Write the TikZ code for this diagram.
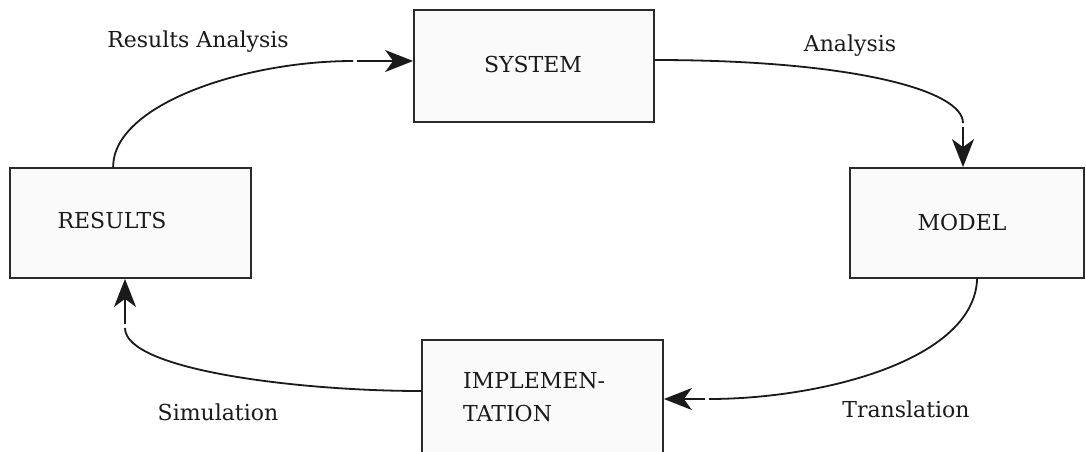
\documentclass[tikz,border=0pt]{standalone}
\usepackage{fontspec}
\setmainfont{DejaVu Serif}
\usetikzlibrary{arrows.meta}
\definecolor{ink}{HTML}{1A1A1A}
\definecolor{boxfill}{HTML}{FAFAFA}
\definecolor{edge}{HTML}{2A2A2A}
\begin{document}
\begin{tikzpicture}[x=1pt,y=-1pt,
  stage/.style={draw=edge, line width=1.8pt, fill=boxfill, rectangle, inner sep=0pt},
  caption/.style={text=ink, font=\fontsize{22}{33}\selectfont, inner sep=0pt, anchor=base},
  flow/.style={draw=ink, line width=1.8pt},
  flowtip/.style={flow, -{Stealth[length=28pt,width=22pt,inset=8pt]}}]
\useasboundingbox (0,0) rectangle (1086,451);
\clip (0,0) rectangle (1086,451);
\fill[white] (0,0) rectangle (1086,451);

% the four stages of the cycle
\node[stage, minimum width=240pt, minimum height=112pt] (sys) at (534,66) {};
\node[stage, minimum width=234pt, minimum height=110pt] (model) at (967,223) {};
\node[stage, minimum width=241pt, minimum height=110pt] (res) at (130.5,223) {};
\node[stage, minimum width=241pt, minimum height=120pt] (impl) at (542.5,400) {};

% box captions
\node[caption] (t-sys) at (533,72) {SYSTEM};
\node[caption] (t-res) at (112,228) {RESULTS};
\node[caption] (t-mod) at (962,230) {MODEL};
\node[caption, anchor=north west, align=left] (t-impl) at (463,372) {IMPLEMEN-\\TATION};

% connector break points
\coordinate (ra-end) at (353,61);
\coordinate (ra-tip) at (357,61);
\coordinate (an-end) at (963,123);
\coordinate (an-tip) at (963,127);
\coordinate (tr-end) at (709,399);
\coordinate (tr-tip) at (705,399);
\coordinate (si-end) at (125,328);
\coordinate (si-tip) at (125,324);

% Results -> System
\draw[flow] ([xshift=104pt]res.north west) .. controls +(0,-63) and +(-108,0) .. (ra-end);
\draw[flowtip] (ra-tip) -- (ra-tip -| sys.west);
% System -> Model
\draw[flow] ([yshift=6pt]sys.east) .. controls +(196,0) and +(0,-33) .. (an-end);
\draw[flowtip] (an-tip) -- (an-tip |- model.north);
% Model -> Implementation
\draw[flow] ([xshift=128pt]model.south west) .. controls +(-3,82) and +(111,0) .. (tr-end);
\draw[flowtip] (tr-tip) -- (tr-tip -| impl.east);
% Implementation -> Results
\draw[flow] ([yshift=9pt]impl.west) .. controls +(-122,0) and +(0,42) .. (si-end);
\draw[flowtip] (si-tip) -- (si-tip |- res.south);

% connector labels
\node[caption] (t-ra) at (198,47) {Results Analysis};
\node[caption] (t-an) at (850,51) {Analysis};
\node[caption] (t-sim) at (218,420) {Simulation};
\node[caption] (t-tr) at (906,417) {Translation};
\end{tikzpicture}
\end{document}
